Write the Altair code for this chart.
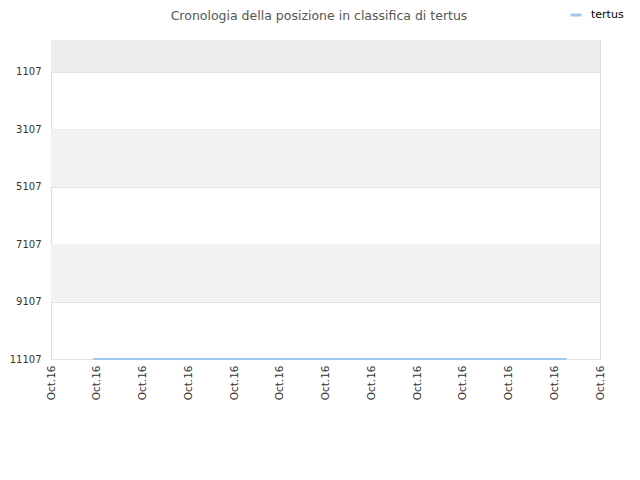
import altair as alt
import pandas as pd

# data
title_text = "Cronologia della posizione in classifica di tertus"
series_name = "tertus"
line_x = [0.92, 11.27]
line_rank = [11107, 11107]
y_ticks = [1107, 3107, 5107, 7107, 9107, 11107]
x_ticks = list(range(13))
x_label = "Oct.16"
band_start = [0, 3107, 7107]
band_end = [1107, 5107, 9107]
band_color = ["#ececec", "#f2f2f2", "#f2f2f2"]

line_df = pd.DataFrame({"x": line_x, "rank": line_rank, "serie": [series_name] * len(line_x)})
band_df = pd.DataFrame({"y": band_start, "y2": band_end, "c": band_color})
title_df = pd.DataFrame({"t": [title_text]})

yscale = alt.Scale(domain=[0, 11107], reverse=True, nice=False, zero=False)
xscale = alt.Scale(domain=[0, 12], nice=False, zero=False)

bands = alt.Chart(band_df).mark_rect().encode(
    x=alt.value(0),
    x2=alt.value(549),
    y=alt.Y("y:Q", scale=yscale, axis=alt.Axis(
        values=y_ticks, format="d", title=None, ticks=False, domain=False, labelPadding=10,
        labelFontSize=10, labelColor="#333333", labelFont="DejaVu Sans",
        gridColor="#e3e3e3", grid=True)),
    y2="y2:Q",
    fill=alt.Fill("c:N", scale=None, legend=None),
)

line = alt.Chart(line_df).mark_line(strokeWidth=2).encode(
    x=alt.X("x:Q", scale=xscale, axis=alt.Axis(
        values=x_ticks, labelExpr=f"'{x_label}'", labelAngle=-90, title=None,
        ticks=False, domain=False, grid=False, labelPadding=6,
        labelFontSize=10.5, labelColor="#333333", labelFont="DejaVu Sans")),
    y=alt.Y("rank:Q", scale=yscale),
    color=alt.Color("serie:N", scale=alt.Scale(domain=[series_name], range=["#9ec8f2"]),
                    legend=alt.Legend(title=None, orient="none", legendX=518, legendY=-32,
                                      padding=0, labelOffset=8,
                                      symbolType="stroke", symbolStrokeWidth=3, symbolSize=120,
                                      labelFontSize=11, labelColor="#000000",
                                      labelFont="DejaVu Sans")),
)

title = alt.Chart(title_df).mark_text(
    fontSize=12.5, color="#555555", font="DejaVu Sans", align="center", baseline="middle"
).encode(text="t:N", x=alt.value(268), y=alt.value(-24))

chart = alt.layer(bands, line, title).resolve_scale(color="independent").properties(
    width=549,
    height=319,
    autosize=alt.AutoSizeParams(type="none"),
    padding={"left": 43, "top": 32, "right": 32, "bottom": 100},
).configure_view(stroke="#dddddd", strokeWidth=1)

chart.save("out.html", embed_options={"renderer": "svg", "actions": False})
